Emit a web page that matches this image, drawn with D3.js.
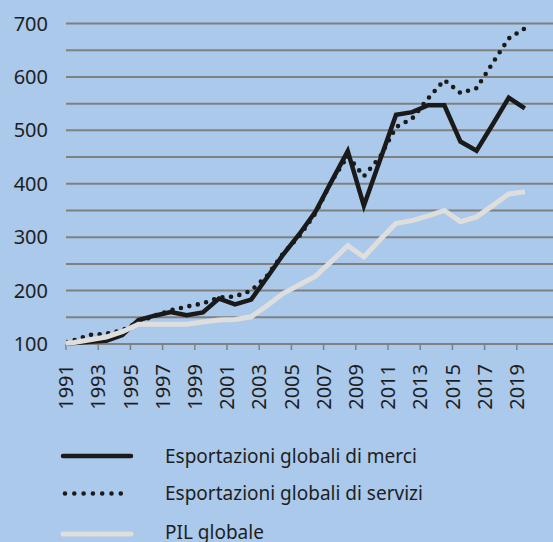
<!DOCTYPE html>
<html>
<head>
<meta charset="utf-8">
<script src="https://cdn.jsdelivr.net/npm/d3@7"></script>
<style>
  html, body { margin: 0; padding: 0; background: #aac9eb; }
  svg { display: block; }
  text { font-family: "Noto Sans", "Open Sans", sans-serif; fill: #1e1e1e; }
</style>
</head>
<body>
<svg id="chart" width="553" height="542"></svg>
<script>
// ---- data (index, 1990 = 100) ----
const years = [1990,1991,1992,1993,1994,1995,1996,1997,1998,1999,2000,2001,2002,2003,2004,2005,2006,2007,2008,2009,2010,2011,2012,2013,2014,2015,2016,2017,2018,2019];
const merci   = [100,102,104,106,117,145,153,160,154,159,185,174,183,225,268,306,348,405,461,359,444,529,534,547,547,479,462,511,561,541];
const servizi = [100,107,117,119,126,141,153,163,170,176,187,189,200,228,270,302,345,405,452,414,450,506,522,560,594,570,579,626,672,691];
const pil     = [100,103,108,113,123,137,137,137,137,141,145,146,151,172,195,211,227,255,284,263,295,326,331,340,350,329,338,359,381,385];
const yTicks = [100,200,300,400,500,600,700];
const gridValues = [100,150,200,250,300,350,400,450,500,550,600,650,700];
const xTickYears = [1991,1993,1995,1997,1999,2001,2003,2005,2007,2009,2011,2013,2015,2017,2019];
const seriesNames = ["Esportazioni globali di merci","Esportazioni globali di servizi","PIL globale"];

const svg = d3.select("#chart");
const W = 553;
const x = d3.scaleLinear().domain([1991, 2019]).range([66, 516.8]);
const y = d3.scaleLinear().domain([100, 700]).range([344, 23.5]);

// gridlines
svg.append("g").selectAll("line").data(gridValues).join("line")
  .attr("x1", x(1991)).attr("x2", W)
  .attr("y1", d => y(d)).attr("y2", d => y(d))
  .attr("stroke", "#808080").attr("stroke-width", 2);

// y labels
svg.append("g").selectAll("text").data(yTicks).join("text")
  .attr("x", 48).attr("y", d => y(d)).attr("dy", "0.35em")
  .attr("text-anchor", "end").style("font-size", "20px")
  .text(d => d);

// x ticks
svg.append("g").selectAll("line").data(xTickYears).join("line")
  .attr("x1", d => x(d)).attr("x2", d => x(d))
  .attr("y1", y(100)).attr("y2", y(100) + 6)
  .attr("stroke", "#808080").attr("stroke-width", 1.5);

svg.append("g").selectAll("text").data(xTickYears).join("text")
  .attr("transform", d => `translate(${x(d)},${y(100) + 20}) rotate(-90)`)
  .attr("dy", "0.36em")
  .attr("text-anchor", "end").style("font-size", "20px")
  .text(d => d);

// clip
svg.append("clipPath").attr("id", "plotclip").append("rect")
  .attr("x", x(1991)).attr("y", 0).attr("width", W - x(1991)).attr("height", 400);

const line = d3.line().x((d, i) => x(years[i] + 0.5)).y(d => y(d));
const plot = svg.append("g").attr("clip-path", "url(#plotclip)");

const styles = [
  { data: merci, stroke: "#1a1a1a", width: 4.5, dash: null, cap: "butt" },
  { data: servizi, stroke: "#1a1a1a", width: 4.6, dash: "0 8.6", cap: "round" },
  { data: pil, stroke: "#dedede", width: 5, dash: null, cap: "butt" }
];
styles.forEach(s => {
  plot.append("path").datum(s.data)
    .attr("d", line).attr("fill", "none")
    .attr("stroke", s.stroke).attr("stroke-width", s.width)
    .attr("stroke-linejoin", "miter")
    .attr("stroke-linecap", s.cap)
    .attr("stroke-dasharray", s.dash);
});

// legend
const legY = [456, 493.5, 532];
const leg = svg.append("g");
styles.forEach((s, i) => {
  leg.append("line")
    .attr("x1", s.dash ? 65 : 63).attr("x2", s.dash ? 130 : 131)
    .attr("y1", legY[i] + (i === 2 ? 2 : 0)).attr("y2", legY[i] + (i === 2 ? 2 : 0))
    .attr("stroke", s.stroke).attr("stroke-width", s.width)
    .attr("stroke-linecap", "round")
    .attr("stroke-dasharray", s.dash ? "0 9.3" : null);
  leg.append("text")
    .attr("x", 165).attr("y", legY[i]).attr("dy", "0.35em")
    .style("font-size", "19px")
    .text(seriesNames[i]);
});
</script>
</body>
</html>
